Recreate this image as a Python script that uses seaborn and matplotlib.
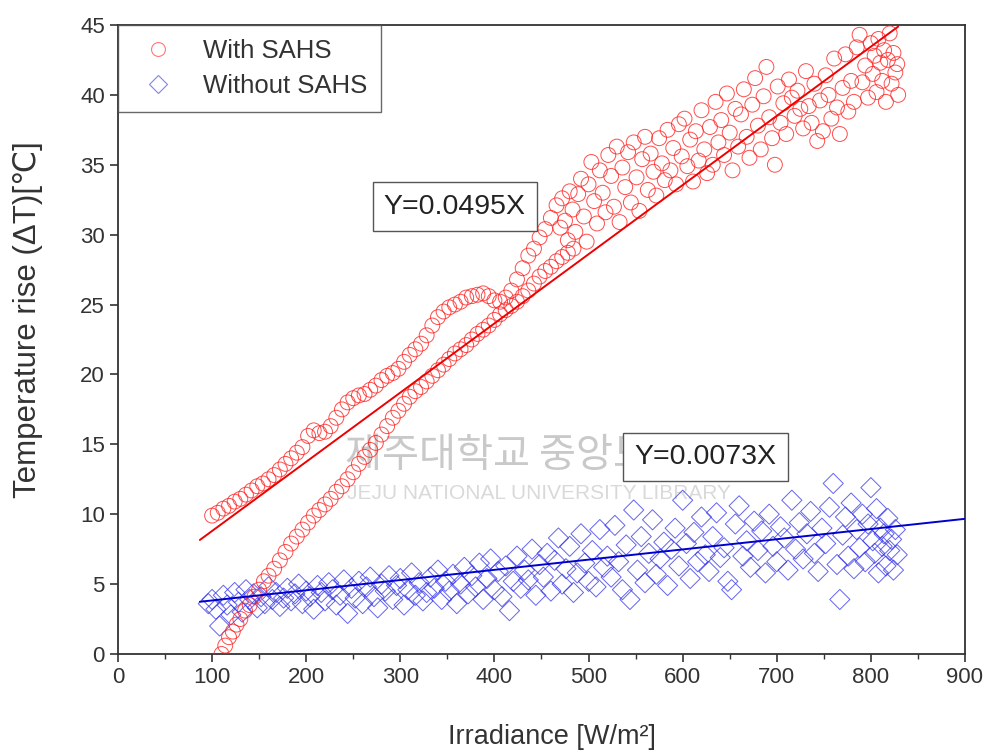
import matplotlib
matplotlib.use("Agg")
import matplotlib.pyplot as plt
from matplotlib.lines import Line2D
import numpy as np
import pandas as pd
import seaborn as sns

# ---------------- data ----------------
# With SAHS: upper (morning) branch
red_up_x = [100, 106, 112, 118, 124, 130, 136, 142, 148, 154, 160, 166, 172, 178, 184, 190, 196, 202, 208, 214,
            220, 226, 232, 238, 244, 250, 256, 262, 268, 274, 280, 286, 292, 298, 304, 310, 316, 322, 328, 334,
            340, 346, 352, 358, 364, 370, 376, 382, 388, 394, 400, 406, 412, 418, 424, 430, 436, 442, 448, 454,
            460, 466]
red_up_y = [9.9, 10.1, 10.4, 10.6, 10.9, 11.1, 11.4, 11.7, 12.0, 12.2, 12.5, 12.8, 13.2, 13.6, 14.0, 14.4, 14.8, 15.6, 16.0, 15.8,
            15.9, 16.3, 16.9, 17.5, 18.0, 18.3, 18.5, 18.6, 18.9, 19.2, 19.6, 19.9, 20.1, 20.4, 20.9, 21.4, 21.8, 22.2, 22.8, 23.5,
            24.1, 24.5, 24.8, 25.0, 25.2, 25.5, 25.6, 25.7, 25.8, 25.6, 25.3, 25.2, 25.5, 26.0, 26.8, 27.6, 28.5, 29.0, 29.8, 30.4,
            31.2, 32.1]
# With SAHS: lower (afternoon) branch
red_lo_x = [110, 114, 118, 122, 126, 130, 135, 140, 145, 150, 155, 160, 166, 172, 178, 184, 190, 196, 202, 208,
            214, 220, 226, 232, 238, 244, 250, 256, 262, 268, 274, 280, 286, 292, 298, 304, 310, 316, 322, 328,
            334, 340, 346, 352, 358, 364, 370, 376, 382, 388, 394, 400, 406, 412, 418, 424, 430, 436, 442, 448,
            454, 460, 466, 472, 478, 484]
red_lo_y = [0.0, 0.6, 1.2, 1.6, 2.1, 2.5, 3.1, 3.5, 4.1, 4.6, 5.2, 5.6, 6.1, 6.7, 7.3, 7.9, 8.4, 8.9, 9.4, 9.9,
            10.3, 10.7, 11.1, 11.6, 12.0, 12.5, 13.0, 13.6, 14.1, 14.6, 15.1, 15.7, 16.3, 16.9, 17.4, 17.9, 18.4, 18.8, 19.1, 19.5,
            19.9, 20.3, 20.7, 21.1, 21.5, 21.8, 22.1, 22.5, 22.9, 23.2, 23.5, 23.9, 24.3, 24.6, 24.9, 25.2, 25.6, 26.0, 26.5, 27.0,
            27.4, 27.7, 28.1, 28.4, 28.7, 29.0]
# With SAHS: high-irradiance cloud
red_cl_x = [470, 472, 475, 478, 480, 483, 486, 489, 492, 495, 498, 500, 503, 506, 509, 512, 515, 518, 521, 524,
            527, 530, 533, 536, 539, 542, 545, 548, 551, 554, 557, 560, 563, 566, 569, 572, 575, 578, 581, 584,
            587, 590, 593, 596, 599, 602, 605, 608, 611, 614, 617, 620, 623, 626, 629, 632, 635, 638, 641, 644,
            647, 650, 653, 656, 659, 662, 665, 668, 671, 674, 677, 680, 683, 686, 689, 692, 695, 698, 701, 704,
            707, 710, 713, 716, 719, 722, 725, 728, 731, 734, 737, 740, 743, 746, 749, 752, 755, 758, 761, 764,
            767, 770, 773, 776, 779, 782, 785, 788, 791, 794, 797, 800, 802, 804, 806, 808, 810, 812, 814, 816,
            818, 820, 822, 824, 826, 828, 829]
red_cl_y = [30.5, 32.6, 31.0, 29.6, 33.1, 31.8, 30.2, 32.9, 34.0, 31.3, 29.5, 33.6, 35.2, 32.4, 30.8, 34.6, 33.0, 31.6, 35.7, 34.2,
            32.0, 36.3, 30.9, 34.8, 33.4, 35.9, 32.3, 36.6, 34.1, 31.7, 35.4, 37.0, 33.2, 35.8, 34.5, 32.8, 36.9, 35.1, 33.9, 37.5,
            34.6, 36.2, 33.6, 37.9, 35.6, 38.3, 34.9, 36.8, 33.8, 37.4, 35.3, 38.9, 36.1, 34.4, 37.7, 35.0, 39.5, 36.6, 38.2, 35.7,
            40.1, 37.3, 34.6, 39.0, 36.3, 38.6, 40.4, 37.0, 35.5, 39.3, 41.2, 37.8, 36.1, 39.9, 42.0, 38.4, 36.9, 35.0, 40.6, 38.0,
            39.4, 37.2, 41.1, 39.8, 38.5, 40.3, 39.0, 37.6, 41.7, 39.2, 38.0, 40.8, 36.7, 39.6, 37.4, 41.4, 40.0, 38.3, 42.6, 39.1,
            37.2, 40.5, 42.9, 38.8, 41.0, 39.5, 43.4, 44.3, 40.9, 42.1, 39.8, 43.7, 41.5, 42.8, 40.2, 44.0, 42.3, 41.0, 43.2, 39.5,
            42.5, 44.4, 40.8, 43.0, 41.6, 42.2, 40.0]

# Without SAHS
blue_x = [96, 100, 104, 108, 112, 116, 120, 124, 128, 132, 136, 140, 144, 148, 152, 156, 160, 164, 168, 172,
          176, 180, 184, 188, 192, 196, 200, 204, 208, 212, 216, 220, 224, 228, 232, 236, 240, 244, 248, 252,
          256, 260, 264, 268, 272, 276, 280, 284, 288, 292, 296, 300, 304, 308, 312, 316, 320, 324, 328, 332,
          336, 340, 344, 348, 352, 356, 360, 364, 368, 372, 376, 380, 384, 388, 392, 396, 400, 404, 408, 412,
          416, 420, 424, 428, 432, 436, 440, 444, 448, 452, 456, 460, 464, 468, 472, 476, 480, 484, 488, 492,
          496, 500, 504, 508, 512, 516, 520, 524, 528, 532, 536, 540, 544, 548, 552, 556, 560, 564, 568, 572,
          576, 580, 584, 588, 592, 596, 600, 604, 608, 612, 616, 620, 624, 628, 632, 636, 640, 644, 648, 652,
          656, 660, 664, 668, 672, 676, 680, 684, 688, 692, 696, 700, 704, 708, 712, 716, 720, 724, 728, 732,
          736, 740, 744, 748, 752, 756, 760, 764, 767, 770, 773, 776, 779, 782, 785, 788, 791, 794, 797, 800,
          802, 804, 806, 808, 810, 812, 814, 816, 818, 820, 822, 824, 826, 828]
blue_y = [3.6, 3.9, 3.2, 2.0, 4.2, 3.5, 2.8, 4.4, 3.7, 3.0, 4.6, 3.9, 4.3, 3.3, 4.1, 3.6, 4.8, 3.9, 4.4, 3.4,
          4.0, 4.7, 3.8, 4.3, 5.0, 3.6, 4.5, 4.1, 3.2, 4.9, 4.4, 3.8, 5.1, 4.6, 3.5, 4.2, 5.3, 2.9, 4.7, 4.0,
          5.2, 3.6, 4.8, 5.5, 4.1, 3.3, 5.0, 4.5, 5.6, 3.9, 4.9, 5.4, 3.5, 4.6, 5.8, 4.2, 5.1, 3.8, 4.4, 5.5,
          4.7, 6.0, 3.9, 5.2, 4.5, 5.7, 3.6, 5.0, 6.2, 4.3, 5.6, 4.8, 6.5, 3.9, 5.4, 6.8, 4.6, 5.9, 4.1, 6.3,
          3.1, 5.2, 7.0, 4.7, 6.0, 5.3, 7.5, 4.2, 6.4, 5.5, 7.2, 4.5, 6.7, 8.3, 5.0, 6.1, 7.7, 4.4, 5.8, 8.6,
          6.5, 5.2, 7.4, 4.8, 8.9, 6.2, 7.0, 5.5, 9.2, 6.6, 4.6, 7.8, 3.9, 10.3, 6.0, 8.4, 5.1, 7.2, 9.6, 5.7,
          6.8, 8.0, 4.9, 7.5, 9.0, 6.3, 11.0, 7.9, 5.4, 8.7, 6.6, 9.8, 7.1, 5.9, 8.4, 10.1, 6.9, 7.6, 5.2, 4.6,
          9.3, 10.6, 7.0, 8.1, 6.2, 9.5, 7.4, 8.8, 5.8, 10.0, 7.7, 6.6, 9.1, 8.3, 6.0, 11.0, 7.5, 9.4, 6.8, 8.6,
          10.2, 7.2, 5.9, 9.0, 7.9, 10.5, 12.2, 6.4, 3.9, 8.5, 9.8, 7.0, 10.8, 6.1, 8.9, 7.6, 10.0, 6.6, 9.3, 11.9,
          8.1, 7.2, 10.4, 5.8, 9.0, 7.7, 8.6, 6.3, 9.7, 7.4, 8.2, 6.0, 8.9, 7.1]

# Linear fits as drawn in the reference (slope, intercept, x-range)
fit_red = dict(slope=0.0495, intercept=3.85, xmin=87, xmax=829, label="Y=0.0495X")
fit_blue = dict(slope=0.0073, intercept=3.1, xmin=87, xmax=900, label="Y=0.0073X")

x_ticks = [0, 100, 200, 300, 400, 500, 600, 700, 800, 900]
y_ticks = [0, 5, 10, 15, 20, 25, 30, 35, 40, 45]

# ---------------- plotting ----------------
sns.set_style("ticks")
plt.rcParams["font.family"] = ["Liberation Sans", "DejaVu Sans", "Noto Sans CJK KR"]

fig = plt.figure(figsize=(9.93, 7.55), dpi=100)
ax = fig.add_axes([0.1188, 0.1338, 0.8530, 0.8331])

RED = "#ff2020"
BLUE = "#3030e8"

red_df = pd.DataFrame({"x": red_up_x + red_lo_x + red_cl_x,
                       "y": red_up_y + red_lo_y + red_cl_y})
blue_df = pd.DataFrame({"x": blue_x, "y": blue_y})

# watermark (faint)
ax.text(241, 14.2, "제주대학교 중앙도서관", fontsize=29, color="#bcbcbc", alpha=0.8,
        va="center", ha="left", family=["Noto Sans CJK KR"], zorder=0)
ax.text(243, 11.5, "JEJU NATIONAL UNIVERSITY LIBRARY", fontsize=15, color="#d0d0d0", alpha=0.8,
        va="center", ha="left", zorder=0)

sns.scatterplot(data=blue_df, x="x", y="y", ax=ax, marker="D", s=105,
                facecolors="none", edgecolors=BLUE, linewidths=0.7, alpha=0.75, zorder=2, legend=False)
sns.scatterplot(data=red_df, x="x", y="y", ax=ax, marker="o", s=115,
                facecolors="none", edgecolors=RED, linewidths=0.7, alpha=0.8, zorder=3, legend=False)

for fit, col in ((fit_red, "#ee0000"), (fit_blue, "#0000cc")):
    xs = np.array([fit["xmin"], fit["xmax"]], dtype=float)
    ys = fit["slope"] * xs + fit["intercept"]
    sns.lineplot(x=xs, y=ys, ax=ax, color=col, linewidth=1.4, zorder=4)

# equation boxes
box = dict(boxstyle="square,pad=0.4", facecolor="white", edgecolor="#555555", linewidth=1.0)
ax.text(358, 32.0, fit_red["label"], fontsize=20.5, ha="center", va="center", bbox=box, zorder=5, color="#222222")
ax.text(624, 14.1, fit_blue["label"], fontsize=20.5, ha="center", va="center", bbox=box, zorder=5, color="#222222")

ax.set_xlim(0, 900)
ax.set_ylim(0, 45)
ax.set_xticks(x_ticks)
ax.set_yticks(y_ticks)
ax.set_xticks([50 + 100 * i for i in range(9)], minor=True)
ax.tick_params(axis="both", which="major", direction="out", length=6, width=1.2,
               labelsize=16, colors="#333333", labelcolor="#333333")
ax.tick_params(axis="x", which="minor", direction="out", length=3.5, width=1.0, colors="#333333")
for s in ax.spines.values():
    s.set_linewidth(1.3)
    s.set_color("#333333")
    s.set_visible(True)

ax.set_xlabel("Irradiance [W/m²]", fontsize=19.5, color="#333333")
ax.set_ylabel("Temperature rise (ΔT)[℃]", fontsize=22.5, color="#333333")
ax.xaxis.set_label_coords(0.512, -0.112)
ax.yaxis.set_label_coords(-0.088, 0.531)

handles = [Line2D([], [], linestyle="none", marker="o", markersize=10, markerfacecolor="none",
                  markeredgecolor=RED, markeredgewidth=0.8, alpha=0.6),
           Line2D([], [], linestyle="none", marker="D", markersize=9, markerfacecolor="none",
                  markeredgecolor=BLUE, markeredgewidth=0.8, alpha=0.6)]
leg = ax.legend(handles, ["With SAHS", "Without SAHS"], loc="upper left", borderaxespad=0,
                fontsize=18.5, frameon=True, fancybox=False, handlelength=2.0, handletextpad=0.75,
                borderpad=0.55, labelspacing=0.42)
leg.get_frame().set_edgecolor("#444444")
leg.get_frame().set_linewidth(1.0)
for t in leg.get_texts():
    t.set_color("#333333")

fig.savefig("out.png", dpi=100)
